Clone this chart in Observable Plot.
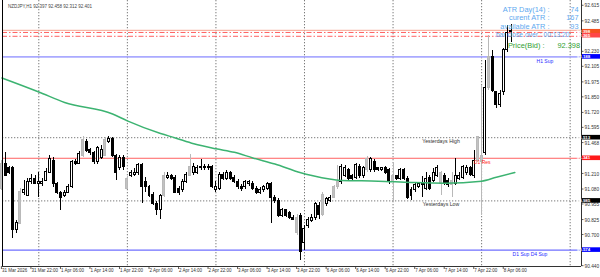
<!DOCTYPE html>
<html><head><meta charset="utf-8">
<script src="https://cdn.jsdelivr.net/npm/d3@7"></script>
<script src="https://cdn.jsdelivr.net/npm/@observablehq/plot@0.6"></script>
<style>
html,body{margin:0;padding:0;background:#fff;}
#chart svg{display:block;}
</style></head><body><div id="chart"></div>
<script>
// ---------- data ----------
const symbolHeader = "NZDJPY,H1 92.397 92.458 92.312 92.401";

const open = [
91.088,91.297,91.256,91.256,90.738,90.796,91.055,91.030,91.139,91.164,
91.130,91.122,91.155,91.222,91.322,91.122,91.047,91.030,91.055,91.097,
91.314,91.297,91.364,91.481,91.406,91.381,91.306,91.347,91.364,91.473,
91.498,91.356,91.256,91.347,91.088,91.189,91.205,91.214,91.281,91.147,
91.097,91.038,90.963,90.913,91.022,91.180,91.189,91.180,91.088,91.072,
91.147,91.197,91.214,91.222,91.256,91.272,91.264,91.264,91.080,91.088,
91.205,91.172,91.222,91.180,91.147,91.105,91.097,91.122,91.130,91.088,
91.055,91.072,91.088,91.122,91.013,90.988,90.863,90.905,90.880,90.846,
90.846,90.863,90.637,90.779,90.821,90.838,90.946,90.871,90.955,90.988,
91.013,91.097,91.139,91.197,91.239,91.189,91.180,91.272,91.197,91.239,
91.239,91.314,91.256,91.247,91.256,91.239,91.155,91.189,91.172,91.239,
91.172,91.030,91.072,91.105,91.114,91.088,91.180,91.155,91.197,91.130,
91.197,91.155,91.114,91.130,91.172,91.180,91.222,91.256,91.189,91.322,
91.306,91.381,91.924,92.183,91.891,91.782,91.891,92.242,92.397];
const high = [
91.322,91.389,91.272,91.272,90.821,91.088,91.155,91.172,91.205,91.197,
91.222,91.172,91.256,91.364,91.347,91.139,91.063,91.072,91.122,91.322,
91.331,91.398,91.523,91.498,91.423,91.398,91.439,91.448,91.515,91.523,
91.515,91.373,91.364,91.364,91.189,91.239,91.256,91.297,91.297,91.180,
91.114,91.055,90.980,91.038,91.222,91.222,91.205,91.197,91.105,91.164,
91.222,91.373,91.297,91.281,91.331,91.289,91.289,91.281,91.147,91.222,
91.222,91.239,91.230,91.197,91.164,91.122,91.155,91.155,91.147,91.105,
91.097,91.114,91.139,91.139,91.030,91.005,90.921,90.913,90.896,90.863,
90.871,90.880,90.779,90.846,90.871,90.972,90.972,91.055,91.013,91.030,
91.114,91.281,91.289,91.281,91.256,91.205,91.297,91.289,91.272,91.356,
91.347,91.331,91.264,91.264,91.272,91.256,91.306,91.197,91.256,91.256,
91.189,91.097,91.130,91.139,91.189,91.222,91.197,91.256,91.281,91.230,
91.214,91.172,91.222,91.339,91.222,91.281,91.281,91.272,91.406,91.515,
91.950,92.158,92.367,92.242,91.899,91.907,92.258,92.450,92.458];
const low = [
91.072,91.189,91.205,90.671,90.713,90.788,91.030,91.022,91.122,91.122,
91.013,91.105,91.147,91.214,91.097,91.038,90.905,91.013,91.047,91.088,
91.281,91.289,91.347,91.389,91.364,91.289,91.289,91.331,91.356,91.464,
91.347,91.155,91.239,91.239,91.080,91.180,91.189,91.197,90.963,91.055,
91.013,90.946,90.863,90.829,91.013,91.164,91.155,91.047,91.030,91.055,
91.130,91.189,91.197,91.205,91.239,91.239,91.239,91.088,91.055,91.072,
91.155,91.155,91.155,91.130,91.080,91.063,91.080,91.105,91.072,91.038,
91.038,91.055,91.072,90.796,90.963,90.846,90.846,90.846,90.829,90.821,
90.696,90.487,90.571,90.754,90.804,90.821,90.829,90.855,90.938,90.972,
91.005,91.080,91.122,91.180,91.155,91.155,91.164,91.172,91.172,91.222,
91.222,91.222,91.230,91.230,91.205,91.122,90.972,91.155,91.155,91.155,
90.997,90.988,91.055,91.088,91.013,91.072,91.072,91.139,91.180,91.030,
91.114,91.097,91.013,91.114,91.155,91.164,91.197,91.189,91.172,91.306,
90.863,91.364,91.907,91.891,91.757,91.765,91.866,92.225,92.312];
const close = [
91.297,91.197,91.214,90.738,90.804,91.063,91.080,91.147,91.164,91.130,
91.147,91.147,91.230,91.331,91.122,91.047,91.013,91.055,91.105,91.314,
91.297,91.373,91.490,91.398,91.381,91.306,91.423,91.414,91.490,91.498,
91.356,91.222,91.347,91.264,91.172,91.214,91.222,91.281,91.105,91.097,
91.030,90.963,90.905,91.022,91.197,91.197,91.172,91.055,91.047,91.147,
91.205,91.264,91.272,91.256,91.272,91.256,91.256,91.105,91.105,91.205,
91.172,91.222,91.172,91.147,91.097,91.088,91.139,91.139,91.088,91.055,
91.080,91.097,91.122,91.013,90.988,90.863,90.905,90.863,90.846,90.829,
90.713,90.554,90.754,90.829,90.846,90.955,90.871,91.038,90.997,91.013,
91.097,91.147,91.272,91.256,91.172,91.172,91.281,91.189,91.256,91.339,
91.331,91.239,91.247,91.256,91.222,91.139,91.197,91.172,91.239,91.172,
91.013,91.080,91.114,91.122,91.130,91.172,91.088,91.222,91.256,91.214,
91.130,91.114,91.155,91.197,91.197,91.264,91.256,91.205,91.322,91.515,
91.364,91.924,92.183,91.907,91.782,91.882,92.242,92.384,92.401];
const grayBars = [0,5,22,28,34,44,51,80,87,90,91,99,106,119,122,129,130,132];

const dateTickIndex = [0,8,16,24,32,40,48,56,64,72,80,88,96,104,112,120,128,136];
const dateTickLabels = ["31 Mar 2026","31 Mar 22:00","1 Apr 06:00","1 Apr 14:00","1 Apr 22:00",
  "2 Apr 06:00","2 Apr 14:00","2 Apr 22:00","3 Apr 06:00","3 Apr 14:00","3 Apr 22:00",
  "6 Apr 06:00","6 Apr 14:00","6 Apr 22:00","7 Apr 06:00","7 Apr 14:00","7 Apr 22:00","8 Apr 06:00"];
const daySeparators = [10,34,58,82,106,130,154];

const maIndex = [0,10,17,30,34,43,47,52,58,63,68,74,81,84,92,102,111,120,130,134,139];
const maValue = [92.012,91.895,91.807,91.711,91.653,91.548,91.511,91.462,91.420,91.391,91.344,
  91.293,91.220,91.197,91.156,91.150,91.139,91.133,91.150,91.183,91.222];

// visible price-scale labels (the others are hidden under the coloured markers)
const priceTicks = [92.615,92.485,92.230,92.105,91.975,91.850,91.720,91.595,91.468,
  91.210,91.080,90.955,90.825,90.700,90.440];

const bidLine = [92.410];
const atrLines = [92.392,92.360];
const supportLevels = [92.188,90.574];
const supportLabels = ["H1 Sup","D1 Sup D4 Sup"];
const resistanceLevels = [91.341];
const resistanceLabels = ["D1 Res"];
const yesterdayLevels = [91.513,90.985];
const yesterdayLabels = ["Yesterdays High","Yesterdays Low"];
const axisMarkers = [92.398,92.365,92.188,91.513,91.341,90.985,90.574];

const infoLabels = ["ATR Day(14) :","curent ATR :","available ATR :","Price(Bid) :"];
const infoValues = ["74","167","93","92.398"];
const barCloseText = "bar close over : 00:13:20";

// ---------- build ----------
const bars = open.map((o,i)=>({i, o, h:high[i], l:low[i], c:close[i],
  kind: grayBars.includes(i) ? "gray" : (close[i] >= o ? "up" : "down")}));
const ma = maIndex.map((x,k)=>({x, v: maValue[k]}));

const wickColor = d => d.kind === "gray" ? "#b9b9b9" : "#000000";
const bodyFill = d => d.kind === "gray" ? "#c2c2c2" : d.kind === "up" ? "#ffffff" : "#000000";
const bodyStroke = d => d.kind === "gray" ? "#b9b9b9" : "#000000";

const FONT = "'Liberation Sans', Arial, sans-serif";
const marks = [
  Plot.ruleX(daySeparators, {x: d=>d, stroke:"#7a7a7a", strokeDasharray:"1.3,1.7", strokeWidth:1}),
  Plot.ruleY(yesterdayLevels, {y: d=>d, stroke:"#7a7a7a", strokeDasharray:"1.3,1.7", strokeWidth:1}),
  Plot.ruleY(resistanceLevels, {y: d=>d, stroke:"#ff6262", strokeWidth:1}),
  Plot.ruleY([supportLevels[0]], {y: d=>d, stroke:"#aaaaff", strokeWidth:1.8}),
  Plot.ruleY([supportLevels[1]], {y: d=>d, stroke:"#6f6fff", strokeWidth:1.2}),
  Plot.ruleY(bidLine, {y: d=>d, stroke:"#f5a38f", strokeWidth:1}),
  Plot.ruleY(atrLines, {y: d=>d, stroke:"#ff6060", strokeWidth:1, strokeDasharray:"5,2,1.5,2"}),
  Plot.ruleX(bars, {x:"i", y1:"l", y2:"h", stroke: wickColor, strokeWidth:1, shapeRendering:"crispEdges"}),
  Plot.rect(bars, {x1: d=>d.i-0.27, x2: d=>d.i+0.27, y1:"o", y2:"c", fill: bodyFill, stroke: bodyStroke, strokeWidth:1, shapeRendering:"crispEdges"}),
  Plot.line(ma, {x:"x", y:"v", stroke:"#3cb371", strokeWidth:1.5, curve:"monotone-x"}),
  // level labels
  Plot.text(yesterdayLevels, {x: ()=>119, y: d=>d, text:(d,k)=>yesterdayLabels[k], dy:3.6, fontSize:5.2, fill:"#333"}),
  Plot.text(resistanceLevels, {x: ()=>127.9, y: d=>d, text:(d,k)=>resistanceLabels[k], dy:3.8, textAnchor:"start", fontSize:5, fill:"#ff2020"}),
  Plot.text(supportLevels, {x: (d,k)=>[144.9,138.4][k], y: d=>d, text:(d,k)=>supportLabels[k], dy:4.2, textAnchor:"start", fontSize:5, fill:"#2a2aff", fontWeight:(d,k)=>k===1?"bold":"normal"}),
  // header
  Plot.text([symbolHeader], {text:d=>d, frameAnchor:"top-left", dx:5.5, dy:4.7, textAnchor:"start", fontSize:4.5, fill:"#444"}),
  // price axis labels
  Plot.text(priceTicks, {y:d=>d, text:d=>d.toFixed(3), frameAnchor:"right", dx:3, textAnchor:"start", fontSize:4.8, fill:"#333"}),
  // date labels
  Plot.text(dateTickIndex, {x:d=>d, text:(d,k)=>dateTickLabels[k], frameAnchor:"bottom", dy:5.8, textAnchor:"start", fontSize:4.5, fill:"#333"}),
  // frame lines
  Plot.ruleX([0.163], {x:d=>d, stroke:"#000", strokeWidth:1}),
  Plot.ruleX([157.07], {x:d=>d, stroke:"#333", strokeWidth:1}),
  Plot.ruleY([90.437], {y:d=>d, stroke:"#333", strokeWidth:1})
];

// info panel (ATR box)
const rowY = [6, 14.4, 23.2, 42.6];
const labelDx = [-32,-32,-32,-37];
const valueDx = [-3,-3,-3,-1.5];
const infoColor = ["#5ea9ef","#5ea9ef","#5ea9ef","#2f9e2f"];
infoLabels.forEach((t,k)=>{
  marks.push(Plot.text([t], {text:d=>d, frameAnchor:"top-right", dx:labelDx[k], dy:rowY[k], textAnchor:"end", fontSize:7.4, fill:infoColor[k]}));
  marks.push(Plot.text([infoValues[k]], {text:d=>d, frameAnchor:"top-right", dx:valueDx[k], dy:rowY[k], textAnchor:"end", fontSize:7.4, fill:infoColor[k]}));
});
marks.push(Plot.text([barCloseText], {text:d=>d, frameAnchor:"top-right", dx:-12, dy:31.8, textAnchor:"end", fontSize:6.7, fill:"#5ea9ef"}));

const chart = Plot.plot({
  width: 600, height: 277,
  marginLeft: 2, marginRight: 19, marginTop: 0, marginBottom: 11,
  x: {domain: [0.163, 157.07], axis: null},
  y: {domain: [90.437, 92.659], axis: null},
  style: {fontFamily: FONT, background: "#fff", overflow: "visible"},
  marks
});
document.getElementById("chart").appendChild(chart);

// price markers on the axis and tick marks, using the plot's scales
const ys = chart.scale("y"), xs = chart.scale("x");
const svg = d3.select(chart);
const g = svg.append("g").attr("font-family", FONT);
priceTicks.forEach(p=>{
  const y = ys.apply(p);
  g.append("line").attr("x1",581).attr("x2",583.5).attr("y1",y).attr("y2",y).attr("stroke","#333").attr("stroke-width",0.8);
});
dateTickIndex.forEach(i=>{
  const x = xs.apply(i);
  g.append("line").attr("x1",x).attr("x2",x).attr("y1",266).attr("y2",269).attr("stroke","#333").attr("stroke-width",0.8);
});
const markerColors = ["#f4511e","#ff4747","#0000ff","#000000","#ff1a1a","#000000","#0000ff"];
axisMarkers.forEach((p,k)=>{
  const y = ys.apply(p);
  g.append("rect").attr("x",582).attr("y",y-2.3).attr("width",18).attr("height",4.6).attr("fill",markerColors[k]);
  g.append("text").attr("x",583.5).attr("y",y).attr("dy","0.35em").attr("fill","#fff")
    .attr("font-size",4.4).attr("font-weight","bold").text(p.toFixed(3));
});
</script></body></html>
